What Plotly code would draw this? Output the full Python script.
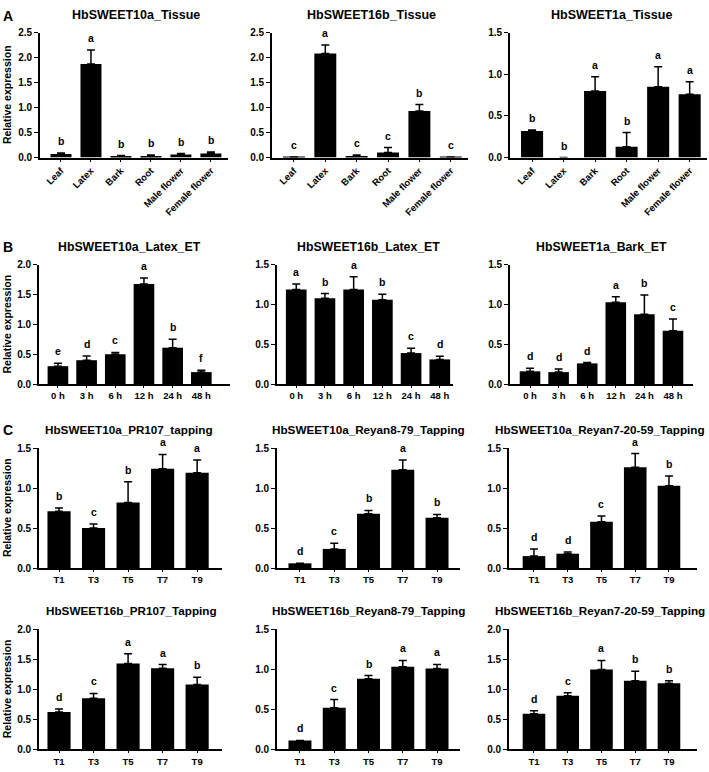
import plotly.graph_objects as go

W, H = 709, 772

# ---------------- data ----------------
tissue = ["Leaf", "Latex", "Bark", "Root", "Male flower", "Female flower"]
hours = ["0 h", "3 h", "6 h", "12 h", "24 h", "48 h"]
tap = ["T1", "T3", "T5", "T7", "T9"]

a1_vals = [0.07, 1.87, 0.03, 0.03, 0.06, 0.08]
a1_err = [0.02, 0.28, 0.01, 0.02, 0.02, 0.03]
a1_let = ["b", "a", "b", "b", "b", "b"]

a2_vals = [0.01, 2.08, 0.03, 0.10, 0.93, 0.01]
a2_err = [0.00, 0.17, 0.02, 0.10, 0.13, 0.00]
a2_let = ["c", "a", "c", "c", "b", "c"]

a3_vals = [0.32, 0.00, 0.80, 0.13, 0.85, 0.76]
a3_err = [0.01, 0.00, 0.17, 0.17, 0.24, 0.15]
a3_let = ["b", "b", "a", "b", "a", "a"]

b1_vals = [0.30, 0.40, 0.50, 1.68, 0.61, 0.20]
b1_err = [0.05, 0.07, 0.03, 0.10, 0.14, 0.03]
b1_let = ["e", "d", "c", "a", "b", "f"]

b2_vals = [1.19, 1.08, 1.19, 1.06, 0.39, 0.31]
b2_err = [0.07, 0.06, 0.16, 0.07, 0.06, 0.04]
b2_let = ["a", "b", "a", "b", "c", "d"]

b3_vals = [0.16, 0.15, 0.26, 1.03, 0.88, 0.67]
b3_err = [0.04, 0.04, 0.01, 0.07, 0.24, 0.15]
b3_let = ["d", "d", "d", "a", "b", "c"]

c1_vals = [0.71, 0.50, 0.82, 1.24, 1.19]
c1_err = [0.04, 0.05, 0.26, 0.18, 0.16]
c1_let = ["b", "c", "b", "a", "a"]

c2_vals = [0.06, 0.24, 0.68, 1.23, 0.63]
c2_err = [0.00, 0.07, 0.04, 0.12, 0.04]
c2_let = ["d", "c", "b", "a", "b"]

c3_vals = [0.15, 0.18, 0.58, 1.26, 1.03]
c3_err = [0.09, 0.02, 0.07, 0.17, 0.12]
c3_let = ["d", "d", "c", "a", "b"]

d1_vals = [0.62, 0.85, 1.43, 1.35, 1.08]
d1_err = [0.05, 0.08, 0.16, 0.06, 0.12]
d1_let = ["d", "c", "a", "a", "b"]

d2_vals = [0.11, 0.52, 0.88, 1.03, 1.01]
d2_err = [0.00, 0.10, 0.04, 0.08, 0.05]
d2_let = ["d", "c", "b", "a", "a"]

d3_vals = [0.59, 0.89, 1.33, 1.14, 1.10]
d3_err = [0.05, 0.05, 0.15, 0.16, 0.04]
d3_let = ["d", "c", "a", "b", "b"]

titles = [
    "HbSWEET10a_Tissue", "HbSWEET16b_Tissue", "HbSWEET1a_Tissue",
    "HbSWEET10a_Latex_ET", "HbSWEET16b_Latex_ET", "HbSWEET1a_Bark_ET",
    "HbSWEET10a_PR107_tapping", "HbSWEET10a_Reyan8-79_Tapping", "HbSWEET10a_Reyan7-20-59_Tapping",
    "HbSWEET16b_PR107_Tapping", "HbSWEET16b_Reyan8-79_Tapping", "HbSWEET16b_Reyan7-20-59_Tapping",
]

# ---------------- layout per panel (pixel boxes) ----------------
# (cats, vals, errs, letters, box px, x range, ymax, bar width, tick angle, y title,
#  title center px, title size, title shift px)
panels = [
    (tissue, a1_vals, a1_err, a1_let, (40, 228, 27, 154), (-0.7, 5.57), 2.5, 0.70, -45, True, 136, 12.5, 18),
    (tissue, a2_vals, a2_err, a2_let, (272, 468, 27, 154), (-0.7, 5.55), 2.5, 0.70, -45, False, 371, 12.5, 18),
    (tissue, a3_vals, a3_err, a3_let, (510, 707, 27, 154), (-0.7, 5.55), 1.5, 0.70, -45, False, 611, 12.5, 18),
    (hours, b1_vals, b1_err, b1_let, (39, 230, 263, 384), (-0.66, 6.0), 2.0, 0.72, 0, True, 129, 12.3, 18),
    (hours, b2_vals, b2_err, b2_let, (277, 453, 263, 384), (-0.67, 5.46), 1.5, 0.72, 0, False, 368, 12.3, 18),
    (hours, b3_vals, b3_err, b3_let, (510, 693, 263, 384), (-0.7, 5.7), 1.5, 0.72, 0, False, 601, 12.3, 18),
    (tap, c1_vals, c1_err, c1_let, (39, 222, 449, 571), (-0.58, 4.72), 1.5, 0.67, 0, True, 129, 11.7, 19),
    (tap, c2_vals, c2_err, c2_let, (277, 460, 449, 571), (-0.67, 4.67), 1.5, 0.67, 0, False, 368, 11.7, 19),
    (tap, c3_vals, c3_err, c3_let, (509, 697, 449, 571), (-0.74, 4.83), 1.5, 0.67, 0, False, 600, 11.7, 19),
    (tap, d1_vals, d1_err, d1_let, (39, 222, 633, 755), (-0.58, 4.72), 2.0, 0.67, 0, True, 131, 11.7, 19),
    (tap, d2_vals, d2_err, d2_let, (277, 460, 633, 755), (-0.67, 4.67), 1.5, 0.67, 0, False, 368, 11.7, 19),
    (tap, d3_vals, d3_err, d3_let, (509, 697, 633, 755), (-0.74, 4.83), 2.0, 0.67, 0, False, 600, 11.7, 19),
]

FONT = "Liberation Sans, Arial, sans-serif"

fig = go.Figure()
layout = dict(
    width=W, height=H, margin=dict(l=0, r=0, t=0, b=0),
    paper_bgcolor="white", plot_bgcolor="white", showlegend=False,
    font=dict(family=FONT, color="black"),
)
annotations = []

for i, (cats, vals, errs, lets, box, xr, ymax, bw, angle, ytitle, tcx, tsize, tshift) in enumerate(panels, start=1):
    xa = "x" if i == 1 else f"x{i}"
    ya = "y" if i == 1 else f"y{i}"
    x0, x1, y0, y1 = box
    fig.add_trace(go.Bar(
        x=cats, y=vals, xaxis=xa, yaxis=ya, width=bw,
        marker=dict(color="black", line=dict(width=0)),
        error_y=dict(type="data", array=errs, arrayminus=[0] * len(errs), symmetric=False,
                     color="black", thickness=1.5, width=4),
        hoverinfo="skip",
    ))
    layout["xaxis" if i == 1 else f"xaxis{i}"] = dict(
        domain=[x0 / W, x1 / W], anchor=ya, type="category", range=list(xr),
        showline=True, linecolor="black", linewidth=1.8, showgrid=False, zeroline=False,
        ticks="outside", ticklen=2, tickwidth=1.2, tickcolor="black",
        tickangle=angle, tickfont=dict(family=FONT, size=9.5, weight=700, color="black"),
        fixedrange=True,
    )
    layout["yaxis" if i == 1 else f"yaxis{i}"] = dict(
        domain=[1 - y1 / H, 1 - y0 / H], anchor=xa, range=[0, ymax], dtick=0.5,
        tickformat=".1f", showline=True, linecolor="black", linewidth=1.8,
        showgrid=False, zeroline=False, ticks="outside", ticklen=4, tickwidth=1.2,
        tickcolor="black", tickfont=dict(family=FONT, size=10, weight=700, color="black"),
        fixedrange=True,
    )
    # significance letters
    for c, v, e, l in zip(cats, vals, errs, lets):
        annotations.append(dict(
            x=c, y=v + e, xref=xa, yref=ya, text=l, showarrow=False,
            xanchor="center", yanchor="bottom", yshift=5, borderpad=0,
            font=dict(family=FONT, size=10.5, weight=700, color="black"),
        ))
    # panel title
    annotations.append(dict(
        x=tcx / W, y=1 - y0 / H, xref="paper", yref="paper",
        text=titles[i - 1], showarrow=False, xanchor="center", yanchor="middle",
        yshift=tshift, borderpad=0,
        font=dict(family=FONT, size=tsize, weight=700, color="black"),
    ))
    if ytitle:
        annotations.append(dict(
            x=7 / W, y=1 - (y0 + y1) / 2 / H, xref="paper", yref="paper",
            text="Relative expression", textangle=-90, showarrow=False,
            xanchor="center", yanchor="middle",
            font=dict(family=FONT, size=10.5, weight=700, color="black"),
        ))

for letter, ypx in [("A", 10), ("B", 245), ("C", 431)]:
    annotations.append(dict(
        x=8 / W, y=1 - ypx / H, xref="paper", yref="paper", text=letter,
        showarrow=False, xanchor="center", yanchor="middle",
        font=dict(family=FONT, size=14, weight=700, color="black"),
    ))

layout["annotations"] = annotations
fig.update_layout(**layout)
fig.write_html(
    "out.html",
    config={"displayModeBar": False},
    post_script="document.body.style.margin='0px';document.body.style.padding='0px';",
)
